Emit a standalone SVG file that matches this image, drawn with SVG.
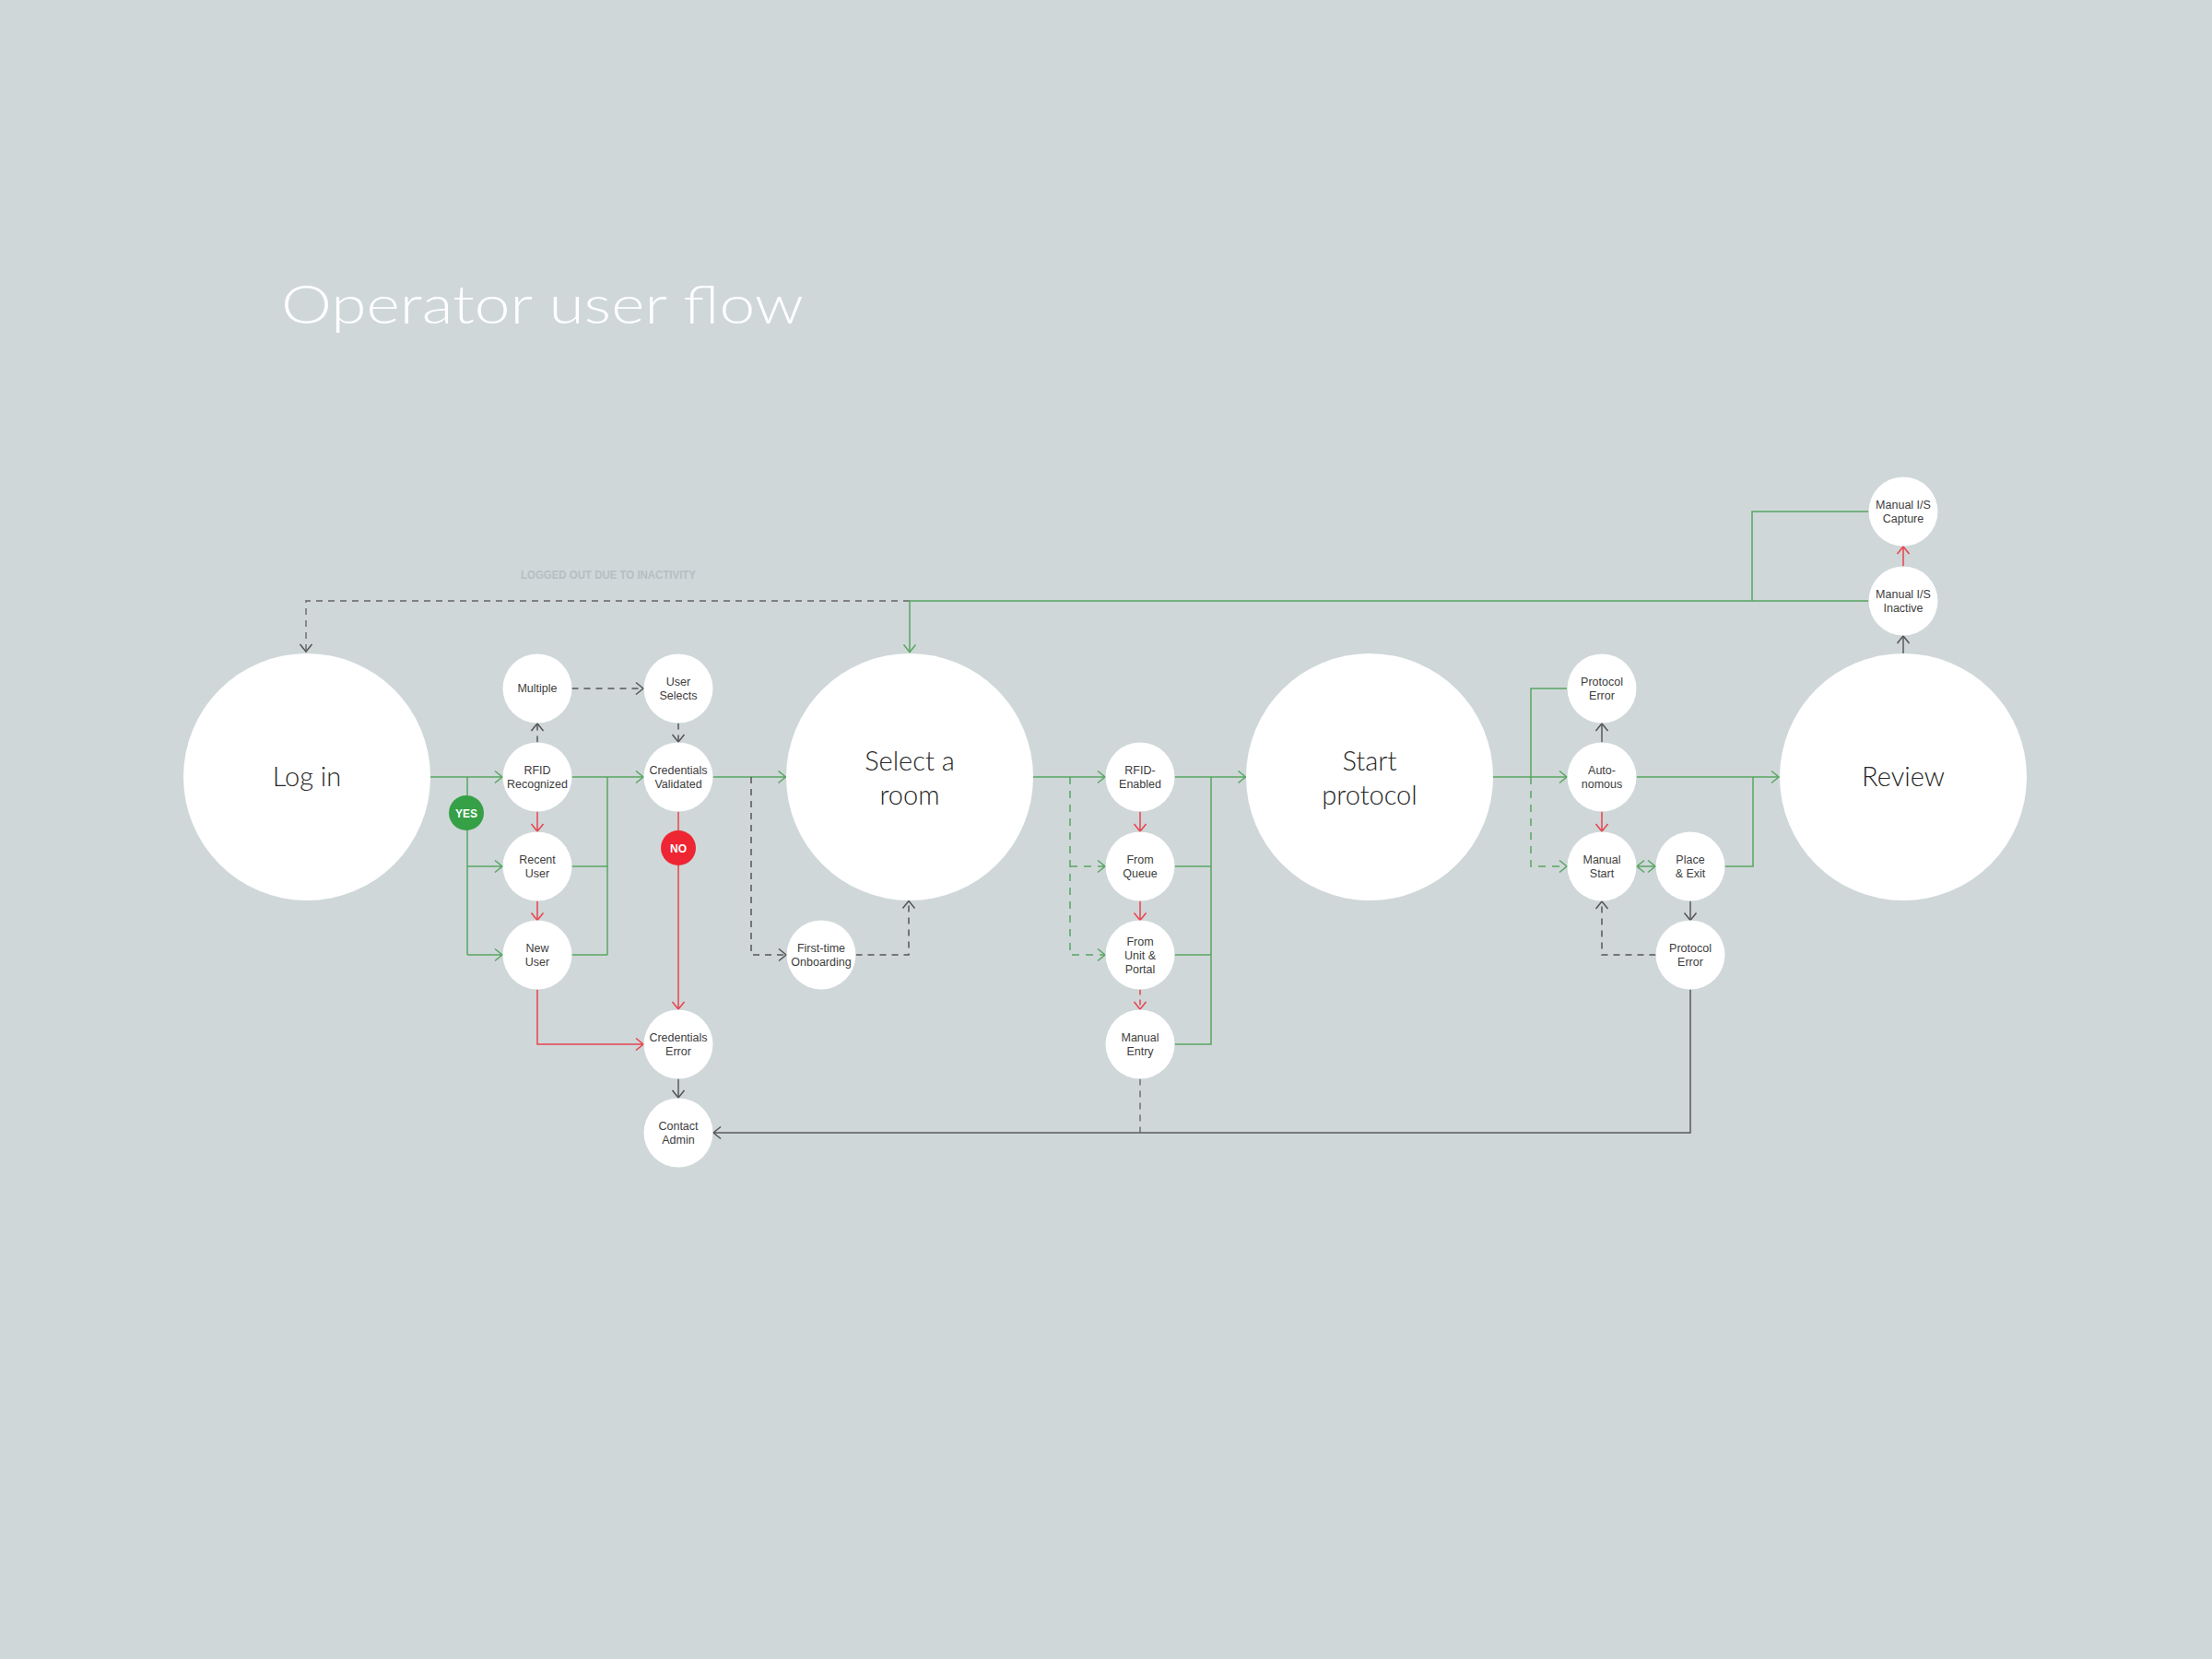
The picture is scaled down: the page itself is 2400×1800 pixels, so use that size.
<svg xmlns="http://www.w3.org/2000/svg" width="2400" height="1800" viewBox="0 0 2400 1800">
<defs>
<style>
.node{fill:#ffffff}
.sm{font-family:"Liberation Sans","DejaVu Sans",sans-serif;font-size:12.5px;fill:#3d3d3d;text-anchor:middle}
.lg{font-family:Lato,"Open Sans","Liberation Sans",sans-serif;font-weight:300;font-size:29px;fill:#262626;text-anchor:middle}
.badge{font-family:"Liberation Sans","DejaVu Sans",sans-serif;font-size:12px;font-weight:bold;fill:#ffffff;text-anchor:middle}
.g{fill:none;stroke:#58a660;stroke-width:1.5}
.gd{fill:none;stroke:#58a660;stroke-width:1.5;stroke-dasharray:8 7}
.r{fill:none;stroke:#e8434c;stroke-width:1.5}
.rd{fill:none;stroke:#e8434c;stroke-width:1.5;stroke-dasharray:6 5}
.k{fill:none;stroke:#5a5a5a;stroke-width:1.5}
.kd{fill:none;stroke:#555555;stroke-width:1.5;stroke-dasharray:7 6}
.md{fill:none;stroke:#808080;stroke-width:1.8;stroke-dasharray:7 6}
</style>
<marker id="ag" viewBox="-10 -8 12 16" refX="0" refY="0" markerWidth="12" markerHeight="16" markerUnits="userSpaceOnUse" orient="auto-start-reverse"><path d="M-8,-6.5 L0,0 L-8,6.5" fill="none" stroke="#58a660" stroke-width="1.5"/></marker>
<marker id="ar" viewBox="-10 -8 12 16" refX="0" refY="0" markerWidth="12" markerHeight="16" markerUnits="userSpaceOnUse" orient="auto"><path d="M-8,-6.5 L0,0 L-8,6.5" fill="none" stroke="#e8434c" stroke-width="1.5"/></marker>
<marker id="ak" viewBox="-10 -8 12 16" refX="0" refY="0" markerWidth="12" markerHeight="16" markerUnits="userSpaceOnUse" orient="auto"><path d="M-8,-6.5 L0,0 L-8,6.5" fill="none" stroke="#555555" stroke-width="1.5"/></marker>
</defs>
<rect x="0" y="0" width="2400" height="1800" fill="#cfd7d9"/>
<text x="305" y="351" font-family="Lato,'Open Sans','Liberation Sans',sans-serif" font-weight="300" font-size="58" fill="#ffffff" textLength="567" lengthAdjust="spacingAndGlyphs">Operator user flow</text>
<text x="565" y="628" font-family="'Liberation Sans','DejaVu Sans',sans-serif" font-weight="bold" font-size="13" fill="#b5bfc2" textLength="190" lengthAdjust="spacingAndGlyphs">LOGGED OUT DUE TO INACTIVITY</text>

<g id="connectors">
<path class="md" d="M987,652 H332 V707" marker-end="url(#ak)"/>
<path class="g" d="M2027.5,652 H987 V707.5" marker-end="url(#ag)"/>
<path class="g" d="M2027.5,555 H1901 V652"/>
<path class="g" d="M466,843 H545" marker-end="url(#ag)"/>
<path class="g" d="M507,843 V1036"/>
<path class="g" d="M507,940 H545" marker-end="url(#ag)"/>
<path class="g" d="M507,1036 H545" marker-end="url(#ag)"/>
<path class="g" d="M620.5,843 H698" marker-end="url(#ag)"/>
<path class="g" d="M620.5,940 H659 V843"/>
<path class="g" d="M620.5,1036 H659"/>
<path class="g" d="M659,940 V1036"/>
<path class="g" d="M773.5,843 H852.5" marker-end="url(#ag)"/>
<path class="kd" d="M583,805.5 V785" marker-end="url(#ak)"/>
<path class="kd" d="M620.5,747 H698" marker-end="url(#ak)"/>
<path class="kd" d="M736,784.5 V805" marker-end="url(#ak)"/>
<path class="r" d="M583,880.5 V902" marker-end="url(#ar)"/>
<path class="r" d="M583,977.5 V998.5" marker-end="url(#ar)"/>
<path class="r" d="M736,880.5 V1095" marker-end="url(#ar)"/>
<path class="r" d="M583,1073.5 V1133 H698" marker-end="url(#ar)"/>
<path class="k" d="M736,1170.5 V1191" marker-end="url(#ak)"/>
<path class="kd" d="M815,843 V1036 H853" marker-end="url(#ak)"/>
<path class="kd" d="M928.5,1036 H986 V977.5" marker-end="url(#ak)"/>
<path class="g" d="M1121,843 H1199" marker-end="url(#ag)"/>
<path class="gd" d="M1161,843 V1036 H1199" marker-end="url(#ag)"/>
<path class="gd" d="M1161,940 H1199" marker-end="url(#ag)"/>
<path class="r" d="M1237,880.5 V902" marker-end="url(#ar)"/>
<path class="r" d="M1237,977.5 V998.5" marker-end="url(#ar)"/>
<path class="rd" d="M1237,1073.5 V1095" marker-end="url(#ar)"/>
<path class="g" d="M1274.5,843 H1351.5" marker-end="url(#ag)"/>
<path class="g" d="M1274.5,940 H1314"/>
<path class="g" d="M1274.5,1036 H1314"/>
<path class="g" d="M1274.5,1133 H1314 V843"/>
<path class="md" d="M1237,1170.5 V1229"/>
<path class="g" d="M1620,843 H1700" marker-end="url(#ag)"/>
<path class="g" d="M1700,747 H1661 V843"/>
<path class="gd" d="M1661,843 V940 H1700" marker-end="url(#ag)"/>
<path class="k" d="M1738,805.5 V785" marker-end="url(#ak)"/>
<path class="r" d="M1738,880.5 V902" marker-end="url(#ar)"/>
<path class="g" d="M1776,940 H1796" marker-start="url(#ag)" marker-end="url(#ag)"/>
<path class="g" d="M1775.5,843 H1930" marker-end="url(#ag)"/>
<path class="g" d="M1871.5,940 H1902 V843"/>
<path class="k" d="M1834,977.5 V998.5" marker-end="url(#ak)"/>
<path class="kd" d="M1796.5,1036 H1738 V978" marker-end="url(#ak)"/>
<path class="k" d="M1834,1073.5 V1229 H774" marker-end="url(#ak)"/>
<path class="k" d="M2065,709 V690" marker-end="url(#ak)"/>
<path class="r" d="M2065,614.5 V593" marker-end="url(#ar)"/>
</g>

<g id="login"><circle class="node" cx="333" cy="843" r="134"/><text class="lg" x="333" y="853">Log in</text></g>
<g id="multiple"><circle class="node" cx="583" cy="747" r="37.5"/><text class="sm" x="583" y="751">Multiple</text></g>
<g id="rfid-recognized"><circle class="node" cx="583" cy="843" r="37.5"/><text class="sm" x="583" y="840">RFID</text><text class="sm" x="583" y="855">Recognized</text></g>
<g id="recent-user"><circle class="node" cx="583" cy="940" r="37.5"/><text class="sm" x="583" y="937">Recent</text><text class="sm" x="583" y="952">User</text></g>
<g id="new-user"><circle class="node" cx="583" cy="1036" r="37.5"/><text class="sm" x="583" y="1033">New</text><text class="sm" x="583" y="1048">User</text></g>
<g id="yes"><circle cx="506" cy="882" r="19" fill="#35a046"/><text class="badge" x="506" y="886.5">YES</text></g>
<g id="user-selects"><circle class="node" cx="736" cy="747" r="37.5"/><text class="sm" x="736" y="744">User</text><text class="sm" x="736" y="759">Selects</text></g>
<g id="credentials-validated"><circle class="node" cx="736" cy="843" r="37.5"/><text class="sm" x="736" y="840">Credentials</text><text class="sm" x="736" y="855">Validated</text></g>
<g id="no"><circle cx="736" cy="920" r="19" fill="#ee2532"/><text class="badge" x="736" y="924.5">NO</text></g>
<g id="credentials-error"><circle class="node" cx="736" cy="1133" r="37.5"/><text class="sm" x="736" y="1130">Credentials</text><text class="sm" x="736" y="1145">Error</text></g>
<g id="contact-admin"><circle class="node" cx="736" cy="1229" r="37.5"/><text class="sm" x="736" y="1226">Contact</text><text class="sm" x="736" y="1241">Admin</text></g>
<g id="first-time"><circle class="node" cx="891" cy="1036" r="37.5"/><text class="sm" x="891" y="1033">First-time</text><text class="sm" x="891" y="1048">Onboarding</text></g>
<g id="select-room"><circle class="node" cx="987" cy="843" r="134"/><text class="lg" x="987" y="836">Select a</text><text class="lg" x="987" y="873">room</text></g>
<g id="rfid-enabled"><circle class="node" cx="1237" cy="843" r="37.5"/><text class="sm" x="1237" y="840">RFID-</text><text class="sm" x="1237" y="855">Enabled</text></g>
<g id="from-queue"><circle class="node" cx="1237" cy="940" r="37.5"/><text class="sm" x="1237" y="937">From</text><text class="sm" x="1237" y="952">Queue</text></g>
<g id="from-unit"><circle class="node" cx="1237" cy="1036" r="37.5"/><text class="sm" x="1237" y="1026">From</text><text class="sm" x="1237" y="1041">Unit &amp;</text><text class="sm" x="1237" y="1056">Portal</text></g>
<g id="manual-entry"><circle class="node" cx="1237" cy="1133" r="37.5"/><text class="sm" x="1237" y="1130">Manual</text><text class="sm" x="1237" y="1145">Entry</text></g>
<g id="start-protocol"><circle class="node" cx="1486" cy="843" r="134"/><text class="lg" x="1486" y="836">Start</text><text class="lg" x="1486" y="873">protocol</text></g>
<g id="protocol-error-top"><circle class="node" cx="1738" cy="747" r="37.5"/><text class="sm" x="1738" y="744">Protocol</text><text class="sm" x="1738" y="759">Error</text></g>
<g id="autonomous"><circle class="node" cx="1738" cy="843" r="37.5"/><text class="sm" x="1738" y="840">Auto-</text><text class="sm" x="1738" y="855">nomous</text></g>
<g id="manual-start"><circle class="node" cx="1738" cy="940" r="37.5"/><text class="sm" x="1738" y="937">Manual</text><text class="sm" x="1738" y="952">Start</text></g>
<g id="place-exit"><circle class="node" cx="1834" cy="940" r="37.5"/><text class="sm" x="1834" y="937">Place</text><text class="sm" x="1834" y="952">&amp; Exit</text></g>
<g id="protocol-error-bottom"><circle class="node" cx="1834" cy="1036" r="37.5"/><text class="sm" x="1834" y="1033">Protocol</text><text class="sm" x="1834" y="1048">Error</text></g>
<g id="review"><circle class="node" cx="2065" cy="843" r="134"/><text class="lg" x="2065" y="853">Review</text></g>
<g id="manual-is-inactive"><circle class="node" cx="2065" cy="652" r="37.5"/><text class="sm" x="2065" y="649">Manual I/S</text><text class="sm" x="2065" y="664">Inactive</text></g>
<g id="manual-is-capture"><circle class="node" cx="2065" cy="555" r="37.5"/><text class="sm" x="2065" y="552">Manual I/S</text><text class="sm" x="2065" y="567">Capture</text></g>
</svg>
